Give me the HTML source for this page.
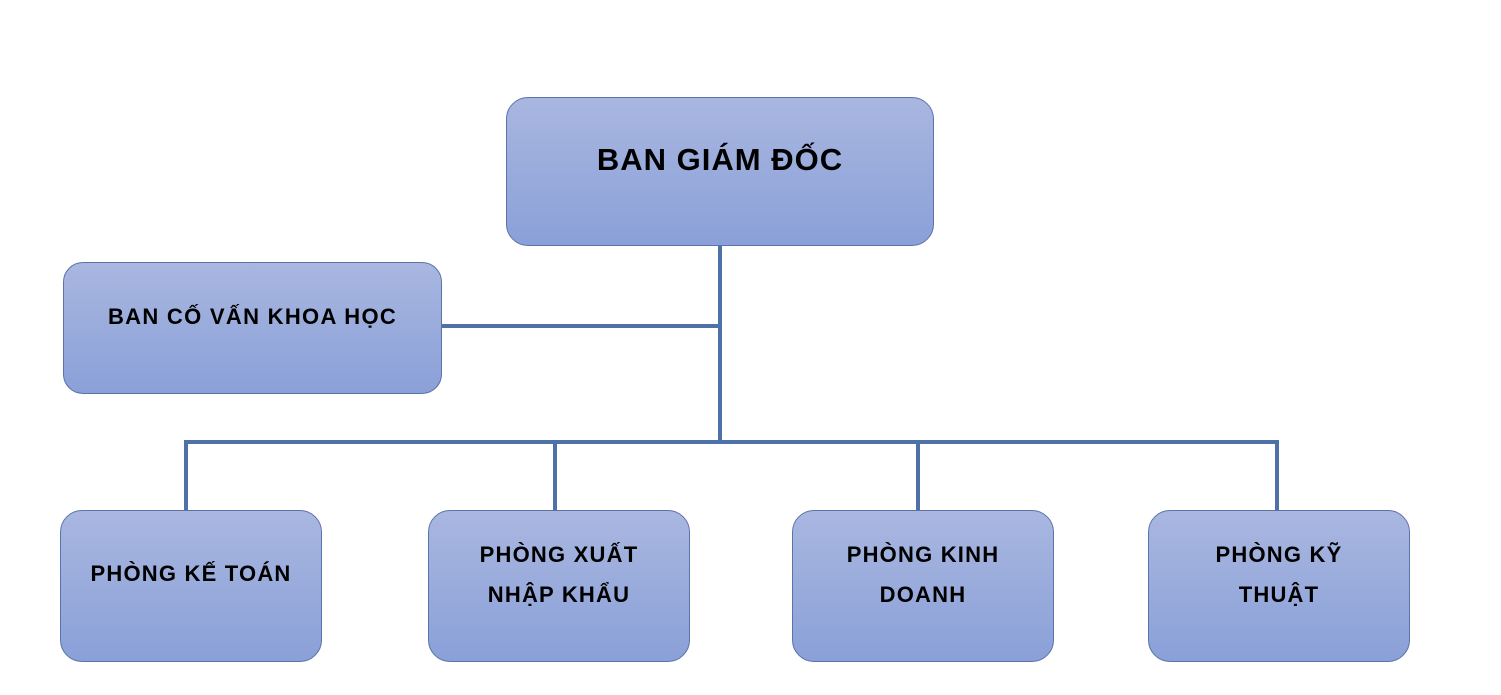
<!DOCTYPE html>
<html><head><meta charset="utf-8"><style>
body{margin:0;width:1501px;height:695px;background:#fff;position:relative;overflow:hidden;font-family:"Liberation Sans","DejaVu Sans",sans-serif;font-weight:bold;color:#000}
.b{position:absolute;box-sizing:border-box;border:1px solid #5a73a8;border-radius:22px;background:linear-gradient(#a9b7e0,#8aa0d8);text-align:center}
.l{position:absolute;background:#4e72a8}
.t{position:absolute;left:0;right:0;text-align:center;white-space:nowrap}
</style></head><body>
<div class="l" style="left:718px;top:245px;width:4px;height:199px"></div>
<div class="l" style="left:441px;top:324px;width:281px;height:4px"></div>
<div class="l" style="left:184px;top:440px;width:1095px;height:4px"></div>
<div class="l" style="left:184px;top:440px;width:4px;height:70px"></div>
<div class="l" style="left:553px;top:440px;width:4px;height:70px"></div>
<div class="l" style="left:916px;top:440px;width:4px;height:70px"></div>
<div class="l" style="left:1275px;top:440px;width:4px;height:70px"></div>

<div class="b" style="left:506px;top:97px;width:428px;height:149px"><div class="t" style="top:44px;font-size:31px;letter-spacing:1px">BAN GIÁM ĐỐC</div></div>
<div class="b" style="left:63px;top:262px;width:379px;height:132px;border-radius:20px"><div class="t" style="top:41px;font-size:22px;letter-spacing:1.3px">BAN CỐ VẤN KHOA HỌC</div></div>
<div class="b" style="left:60px;top:510px;width:262px;height:152px"><div class="t" style="top:50px;font-size:22px;letter-spacing:1.2px">PHÒNG KẾ TOÁN</div></div>
<div class="b" style="left:428px;top:510px;width:262px;height:152px"><div class="t" style="top:24px;font-size:22px;line-height:40px;letter-spacing:1.2px">PHÒNG XUẤT<br>NHẬP KHẨU</div></div>
<div class="b" style="left:792px;top:510px;width:262px;height:152px"><div class="t" style="top:24px;font-size:22px;line-height:40px;letter-spacing:1.2px">PHÒNG KINH<br>DOANH</div></div>
<div class="b" style="left:1148px;top:510px;width:262px;height:152px"><div class="t" style="top:24px;font-size:22px;line-height:40px;letter-spacing:1.2px">PHÒNG KỸ<br>THUẬT</div></div>
</body></html>
